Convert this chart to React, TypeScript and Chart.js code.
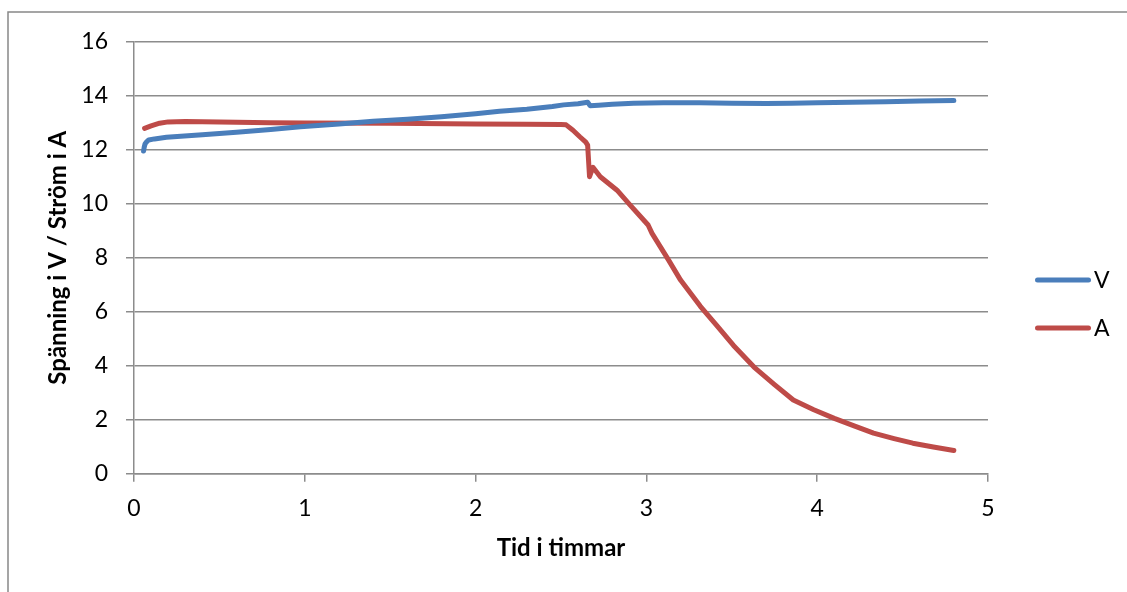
import React, { useEffect, useRef } from "react";
import { Chart, registerables } from "chart.js";

Chart.register(...registerables);

// ---- Data ----
const seriesLabels = ["V", "A"];
const seriesColors = ["#4A7EBB", "#BE4B48"];

const vTime = [0.056, 0.06, 0.065, 0.075, 0.086, 0.12, 0.19, 0.4, 0.6, 0.8, 0.974, 1.2, 1.4, 1.6, 1.8, 2.0, 2.14, 2.3, 2.45, 2.515, 2.6, 2.656, 2.67, 2.72, 2.8, 2.925, 3.1, 3.31, 3.5, 3.7, 3.85, 4.0, 4.2, 4.4, 4.6, 4.8];
const vValues = [11.95, 12.1, 12.22, 12.3, 12.36, 12.4, 12.46, 12.55, 12.65, 12.75, 12.85, 12.95, 13.05, 13.13, 13.22, 13.33, 13.42, 13.5, 13.6, 13.66, 13.7, 13.76, 13.63, 13.65, 13.68, 13.72, 13.74, 13.74, 13.72, 13.71, 13.72, 13.74, 13.76, 13.78, 13.8, 13.82];

const aTime = [0.062, 0.1, 0.15, 0.2, 0.3, 0.5, 0.8, 1.0, 1.5, 2.0, 2.3, 2.5, 2.53, 2.57, 2.61, 2.645, 2.656, 2.667, 2.687, 2.73, 2.828, 2.905, 3.01, 3.033, 3.13, 3.2, 3.316, 3.41, 3.51, 3.63, 3.75, 3.86, 3.98, 4.1, 4.22, 4.33, 4.45, 4.56, 4.68, 4.8];
const aValues = [12.79, 12.88, 12.98, 13.03, 13.04, 13.03, 13.0, 12.99, 12.98, 12.95, 12.94, 12.93, 12.92, 12.72, 12.48, 12.28, 12.17, 11.0, 11.35, 11.0, 10.5, 9.95, 9.21, 8.9, 7.91, 7.17, 6.2, 5.5, 4.75, 3.95, 3.3, 2.73, 2.37, 2.05, 1.76, 1.5, 1.3, 1.13, 0.99, 0.86];

const xTickValues = [0, 1, 2, 3, 4, 5];
const yTickValues = [0, 2, 4, 6, 8, 10, 12, 14, 16];

const xTitle = "Tid i timmar";
const yTitle = "Spänning i V / Ström i A";

const FONT = "Lato";
const GRID = "#8c8c8c";

const framePlugin = {
  id: "frame",
  beforeDraw(chart: any) {
    const ctx = chart.ctx;
    ctx.save();
    ctx.fillStyle = "#ffffff";
    ctx.fillRect(0, 0, chart.width, chart.height);
    ctx.strokeStyle = "#888888";
    ctx.lineWidth = 1.5;
    ctx.beginPath();
    ctx.moveTo(8, chart.height + 5);
    ctx.lineTo(8, 12);
    ctx.lineTo(chart.width + 5, 12);
    ctx.stroke();
    ctx.restore();
  },
};

const legendPlugin = {
  id: "sideLegend",
  afterDraw(chart: any) {
    const ctx = chart.ctx;
    const x0 = chart.chartArea.right + 49.5;
    chart.data.datasets.forEach((ds: any, i: number) => {
      const y = 280 + i * 48;
      ctx.save();
      ctx.strokeStyle = ds.borderColor;
      ctx.lineWidth = 5;
      ctx.lineCap = "round";
      ctx.beginPath();
      ctx.moveTo(x0, y);
      ctx.lineTo(x0 + 51, y);
      ctx.stroke();
      ctx.fillStyle = "#000";
      ctx.font = `23px ${FONT}`;
      ctx.textBaseline = "middle";
      ctx.textAlign = "left";
      ctx.fillText(ds.label, x0 + 56.5, y + 1);
      ctx.restore();
    });
  },
};

export default function App() {
  const canvasRef = useRef<HTMLCanvasElement | null>(null);

  useEffect(() => {
    const canvas = canvasRef.current;
    if (!canvas) return;
    const datasets = [
      { times: vTime, values: vValues },
      { times: aTime, values: aValues },
    ].map((s, i) => ({
      label: seriesLabels[i],
      data: s.times.map((t, j) => ({ x: t, y: s.values[j] })),
      borderColor: seriesColors[i],
      backgroundColor: seriesColors[i],
      borderWidth: 5,
      pointRadius: 0,
      tension: 0,
      borderCapStyle: "round" as const,
      borderJoinStyle: "round" as const,
    }));

    const chart = new Chart(canvas, {
      type: "line",
      data: { datasets },
      options: {
        animation: false,
        responsive: false,
        events: [],
        layout: { padding: { left: 0, top: 41.7, right: 139, bottom: 0 } },
        plugins: { legend: { display: false }, tooltip: { enabled: false } },
        scales: {
          x: {
            type: "linear",
            min: 0,
            max: 5,
            afterBuildTicks: (s: any) => {
              s.ticks = xTickValues.map((v) => ({ value: v }));
            },
            ticks: { padding: 13.4, color: "#000", font: { family: FONT, size: 23 } },
            grid: { drawOnChartArea: false, drawTicks: true, tickLength: 8, color: GRID, lineWidth: 1.5 },
            border: { color: GRID, width: 1.5 },
            title: {
              display: true,
              text: xTitle,
              color: "#000",
              font: { family: FONT, size: 24, weight: "bold" },
              padding: { top: 0, bottom: 29.6 },
            },
            afterFit: (s: any) => {
              s.height = 118.3;
            },
          },
          y: {
            type: "linear",
            min: 0,
            max: 16,
            afterBuildTicks: (s: any) => {
              s.ticks = yTickValues.map((v) => ({ value: v }));
            },
            ticks: { padding: 18, color: "#000", font: { family: FONT, size: 23 } },
            grid: { drawTicks: true, tickLength: 8, color: GRID, lineWidth: 1.5 },
            border: { color: GRID, width: 1.5 },
            title: {
              display: true,
              text: yTitle,
              color: "#000",
              font: { family: FONT, size: 24, weight: "bold" },
              padding: { top: 43.6, bottom: 0 },
            },
            afterFit: (s: any) => {
              s.width = 134;
            },
          },
        },
      } as any,
      plugins: [framePlugin, legendPlugin],
    });
    return () => chart.destroy();
  }, []);

  return (
    <div style={{ position: "fixed", left: 0, top: 0, width: 1127, height: 592, background: "#fff" }}>
      <canvas ref={canvasRef} width={1127} height={592} style={{ display: "block" }} />
    </div>
  );
}
